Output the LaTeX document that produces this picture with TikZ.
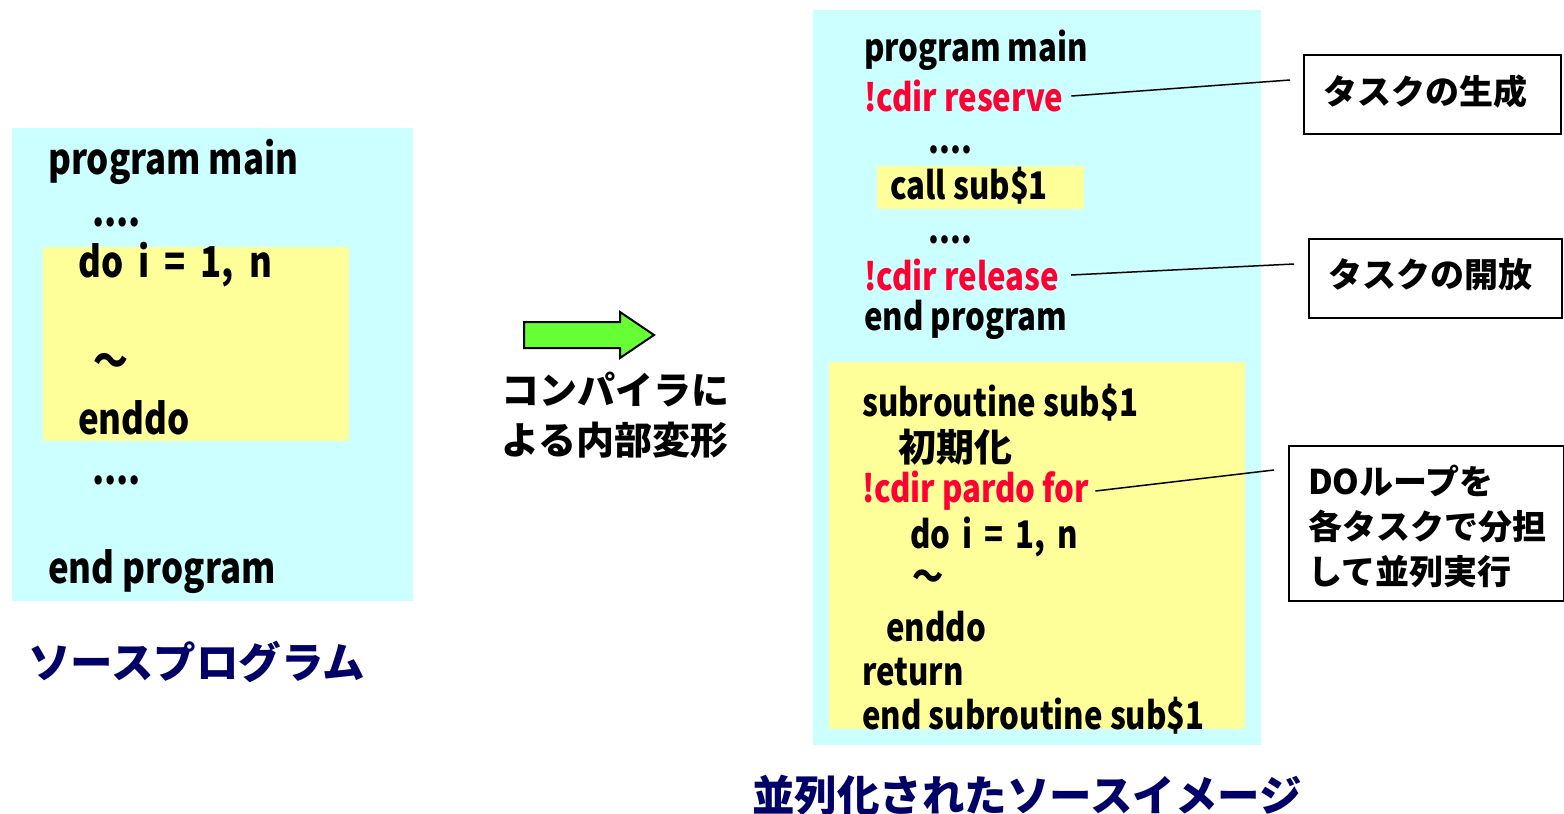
\documentclass[tikz,border=0pt]{standalone}
\usepackage{fontspec}
\setmainfont{Noto Sans CJK JP}[FakeStretch=0.82]
\newfontfamily\jpfont{Noto Sans CJK JP}
\definecolor{cyanbg}{HTML}{CCFFFF}
\definecolor{yellowbg}{HTML}{FFFF99}
\definecolor{navy}{HTML}{000066}
\definecolor{cdir}{HTML}{FF0033}
\definecolor{arrowgreen}{HTML}{66FF33}
\newcommand{\wsp}{\spaceskip=15pt plus 0pt minus 0pt\relax}
\tikzset{
  code/.style={anchor=west,inner sep=0pt,font=\fontsize{38}{40}\selectfont\bfseries},
  lcode/.style={code,font=\fontsize{42.5}{44}\selectfont\bfseries},
  red/.style={text=cdir},
  title/.style={anchor=west,inner sep=0pt,text=navy,font=\jpfont\fontsize{42.5}{46}\selectfont\bfseries},
  jp/.style={inner sep=0pt,font=\jpfont\fontsize{38}{50}\selectfont\bfseries,align=center},
  callout/.style={draw=black,line width=1.5pt,fill=white},
  ctext/.style={anchor=west,inner sep=0pt,font=\jpfont\fontsize{34}{45}\selectfont\bfseries,align=left},
  leader/.style={draw=black,line width=1.5pt}
}
\begin{document}
\begin{tikzpicture}[x=1pt,y=-1pt]
\useasboundingbox (0,0) rectangle (1564,814);
% left box
\fill[cyanbg] (12,128) rectangle (413,601);
\fill[yellowbg] (43,247) rectangle (349,441);
\node[lcode] (l1) at (48,162) {program main};
\node[lcode] (l2) at (92,222) {....};
\node[lcode] (l3) at (78,265) {\wsp do i = 1, n};
\node[lcode] (l4) at (93,365) {～};
\node[lcode] (l5) at (78,418) {enddo};
\node[lcode] (l6) at (92,480) {....};
\node[lcode] (l7) at (48,572) {end program};
\node[title] (t1) at (28,662) {ソースプログラム};
% arrow
\draw[black,line width=2pt,fill=arrowgreen,line join=miter]
  (524,322) -- (620,322) -- (620,312) -- (654,335) -- (620,358) -- (620,348) -- (524,348) -- cycle;
\node[jp] (tc) at (615,415) {コンパイラに\\よる内部変形};
% right box
\fill[cyanbg] (813,10) rectangle (1261,745);
\fill[yellowbg] (877,166) rectangle (1084,209);
\fill[yellowbg] (829,362) rectangle (1245,729);
\node[code] (r1) at (864,50) {program main};
\node[code,red] (r2) at (864,96) {!cdir reserve};
\node[code] (r3) at (928,150) {....};
\node[code] (r4) at (890,186) {call sub\$1};
\node[code] (r5) at (928,240) {....};
\node[code,red] (r6) at (864,275) {!cdir release};
\node[code] (r7) at (864,320) {end program};
\node[code] (s1) at (862,403) {subroutine sub\$1};
\node[code] (s2) at (898,447) {\jpfont 初期化};
\node[code,red] (s3) at (862,491) {!cdir pardo for};
\node[code] (s4) at (910,537) {\spaceskip=12pt\relax do i = 1, n};
\node[code] (s5) at (912,580) {～};
\node[code] (s6) at (886,627) {enddo};
\node[code] (s7) at (862,672) {return};
\node[code] (s8) at (862,716) {end subroutine sub\$1};
\node[title] (t2) at (752,795) {並列化されたソースイメージ};
% callouts
\draw[callout] (1304,55) rectangle (1561,134);
\node[ctext] (c1) at (1323,92) {タスクの生成};
\draw[callout] (1309,239) rectangle (1562,318);
\node[ctext] (c2) at (1328,275) {タスクの開放};
\draw[callout] (1289,446) rectangle (1564,601);
\node[ctext] (c3) at (1308,526) {DOループを\\各タスクで分担\\して並列実行};
\coordinate (e1) at (1290,80);
\coordinate (e2) at (1294,264);
\coordinate (e3) at (1274,470);
\draw[leader] ([xshift=8pt]r2.east) -- (e1);
\draw[leader] ([xshift=12pt]r6.east) -- (e2);
\draw[leader] ([xshift=6pt]s3.east) -- (e3);
\end{tikzpicture}
\end{document}
